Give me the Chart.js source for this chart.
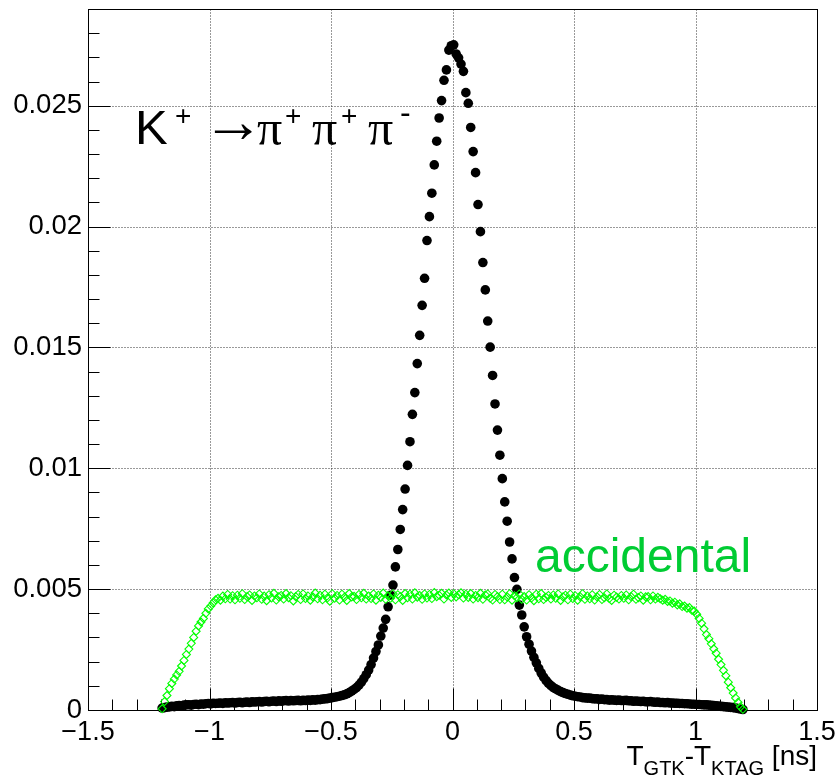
<!DOCTYPE html>
<html>
<head>
<meta charset="utf-8">
<script src="https://cdn.jsdelivr.net/npm/chart.js@4/dist/chart.umd.min.js"></script>
<style>
  html, body { margin: 0; padding: 0; background: #fff; }
  #wrap { width: 840px; height: 776px; }
</style>
</head>
<body>
<div id="wrap"><canvas id="c"></canvas></div>
<script>
// Histogram binning: 240 bins of 10 ps from -1.2 ns to 1.2 ns
const binLow = -1.2;
const binWidth = 0.01;

// K+ -> pi+ pi+ pi- : normalised bin contents
const k3piContent = [
  0.8e-4, 1.0e-4, 1.2e-4, 1.3e-4, 1.5e-4, 1.4e-4, 1.7e-4, 1.8e-4, 1.7e-4, 2.0e-4,
  2.1e-4, 2.2e-4, 2.0e-4, 2.3e-4, 2.4e-4, 2.2e-4, 2.5e-4, 2.4e-4, 2.6e-4, 2.7e-4,
  2.5e-4, 2.8e-4, 2.7e-4, 2.8e-4, 2.9e-4, 2.7e-4, 3.0e-4, 2.9e-4, 3.0e-4, 3.1e-4,
  2.9e-4, 3.1e-4, 3.2e-4, 3.0e-4, 3.2e-4, 3.3e-4, 3.1e-4, 3.4e-4, 3.3e-4, 3.4e-4,
  3.5e-4, 3.3e-4, 3.5e-4, 3.6e-4, 3.4e-4, 3.6e-4, 3.7e-4, 3.5e-4, 3.8e-4, 3.6e-4,
  3.8e-4, 3.9e-4, 3.7e-4, 3.9e-4, 3.8e-4, 3.9e-4, 4.0e-4, 3.8e-4, 4.0e-4, 3.9e-4,
  4.1e-4, 4.0e-4, 4.2e-4, 4.1e-4, 4.3e-4, 4.3e-4, 4.5e-4, 4.6e-4, 4.7e-4, 4.9e-4,
  5.1e-4, 5.3e-4, 5.5e-4, 5.7e-4, 6.0e-4, 6.3e-4, 6.7e-4, 7.2e-4, 7.8e-4, 8.5e-4,
  9.3e-4, 10.3e-4, 11.5e-4, 13.0e-4, 14.6e-4, 16.5e-4, 18.8e-4, 21.5e-4, 24.2e-4, 26.9e-4,
  30.6e-4, 33.9e-4, 37.5e-4, 42.7e-4, 47.5e-4, 51.7e-4, 59.2e-4, 66.4e-4, 74.7e-4, 82.9e-4,
  91.4e-4, 101.2e-4, 111.0e-4, 122.3e-4, 131.3e-4, 143.3e-4, 155.0e-4, 167.4e-4, 178.6e-4, 194.2e-4,
  204.1e-4, 213.8e-4, 225.5e-4, 235.3e-4, 244.9e-4, 252.1e-4, 260.5e-4, 264.8e-4, 273.0e-4, 274.8e-4,
  275.2e-4, 271.4e-4, 269.8e-4, 267.2e-4, 264.2e-4, 255.4e-4, 251.0e-4, 241.0e-4, 231.0e-4, 222.3e-4,
  209.1e-4, 197.9e-4, 185.1e-4, 173.8e-4, 160.9e-4, 150.1e-4, 138.4e-4, 126.6e-4, 115.8e-4, 105.4e-4,
  95.7e-4, 86.1e-4, 78.1e-4, 69.5e-4, 62.5e-4, 54.8e-4, 49.9e-4, 43.4e-4, 39.3e-4, 34.4e-4,
  30.3e-4, 27.2e-4, 24.4e-4, 21.8e-4, 19.5e-4, 17.2e-4, 15.3e-4, 13.6e-4, 12.2e-4, 11.0e-4,
  10.1e-4, 9.3e-4, 8.7e-4, 8.1e-4, 7.6e-4, 7.2e-4, 6.8e-4, 6.5e-4, 6.2e-4, 5.9e-4,
  5.7e-4, 5.5e-4, 5.4e-4, 5.1e-4, 5.0e-4, 4.9e-4, 4.9e-4, 4.7e-4, 4.6e-4, 4.6e-4,
  4.4e-4, 4.5e-4, 4.3e-4, 4.3e-4, 4.1e-4, 4.2e-4, 4.1e-4, 4.0e-4, 4.1e-4, 3.9e-4,
  3.9e-4, 4.0e-4, 3.8e-4, 3.8e-4, 3.6e-4, 3.7e-4, 3.6e-4, 3.5e-4, 3.6e-4, 3.4e-4,
  3.4e-4, 3.5e-4, 3.3e-4, 3.2e-4, 3.3e-4, 3.1e-4, 3.1e-4, 3.0e-4, 3.1e-4, 2.9e-4,
  2.9e-4, 2.8e-4, 2.8e-4, 2.7e-4, 2.7e-4, 2.6e-4, 2.6e-4, 2.5e-4, 2.4e-4, 2.4e-4,
  2.3e-4, 2.3e-4, 2.2e-4, 2.1e-4, 2.1e-4, 2.0e-4, 1.9e-4, 1.8e-4, 1.7e-4, 1.6e-4,
  1.5e-4, 1.4e-4, 1.3e-4, 1.2e-4, 1.1e-4, 1.0e-4, 0.8e-4, 0.6e-4, 0.4e-4, 0.2e-4
];

// Accidental (out-of-time) GTK-KTAG pairs: normalised bin contents
const accidentalContent = [
  0.5e-4, 3.5e-4, 6.0e-4, 8.8e-4, 11.0e-4, 12.8e-4, 14.5e-4, 16.0e-4, 18.2e-4, 20.5e-4,
  23.0e-4, 25.2e-4, 27.6e-4, 30.0e-4, 32.6e-4, 34.8e-4, 36.4e-4, 37.9e-4, 40.0e-4, 41.8e-4,
  43.0e-4, 44.3e-4, 45.6e-4, 46.2e-4, 45.4e-4, 47.1e-4, 46.0e-4, 47.8e-4, 45.9e-4, 47.3e-4,
  45.6e-4, 47.5e-4, 46.2e-4, 48.1e-4, 45.7e-4, 46.9e-4, 47.6e-4, 45.3e-4, 47.2e-4, 46.4e-4,
  48.0e-4, 45.8e-4, 47.1e-4, 45.2e-4, 47.7e-4, 46.3e-4, 48.3e-4, 45.5e-4, 46.8e-4, 47.4e-4,
  45.9e-4, 48.2e-4, 46.5e-4, 47.3e-4, 45.1e-4, 46.9e-4, 47.8e-4, 45.7e-4, 48.0e-4, 46.1e-4,
  47.2e-4, 45.4e-4, 46.8e-4, 48.4e-4, 46.0e-4, 47.5e-4, 45.6e-4, 47.9e-4, 46.3e-4, 45.0e-4,
  48.1e-4, 46.2e-4, 47.4e-4, 45.5e-4, 47.9e-4, 46.6e-4, 45.3e-4, 48.2e-4, 46.8e-4, 47.0e-4,
  45.7e-4, 47.8e-4, 46.4e-4, 48.3e-4, 45.9e-4, 47.2e-4, 46.1e-4, 48.0e-4, 45.4e-4, 47.5e-4,
  46.6e-4, 48.4e-4, 45.8e-4, 47.3e-4, 46.2e-4, 48.1e-4, 45.6e-4, 47.7e-4, 46.9e-4, 45.3e-4,
  48.2e-4, 46.4e-4, 47.9e-4, 45.9e-4, 48.5e-4, 46.7e-4, 47.4e-4, 45.8e-4, 48.0e-4, 46.3e-4,
  47.8e-4, 46.1e-4, 48.6e-4, 46.9e-4, 47.5e-4, 48.3e-4, 45.9e-4, 47.6e-4, 48.4e-4, 46.6e-4,
  48.1e-4, 46.8e-4, 47.7e-4, 48.5e-4, 46.3e-4, 47.9e-4, 46.6e-4, 48.2e-4, 45.9e-4, 47.4e-4,
  46.5e-4, 48.3e-4, 45.8e-4, 47.6e-4, 48.0e-4, 46.2e-4, 45.5e-4, 47.8e-4, 46.9e-4, 45.7e-4,
  47.9e-4, 45.6e-4, 46.8e-4, 48.1e-4, 45.4e-4, 47.3e-4, 46.5e-4, 48.0e-4, 45.8e-4, 46.9e-4,
  45.5e-4, 47.7e-4, 46.3e-4, 45.2e-4, 47.9e-4, 46.0e-4, 48.2e-4, 45.7e-4, 46.6e-4, 47.4e-4,
  45.9e-4, 47.6e-4, 46.2e-4, 48.0e-4, 45.3e-4, 46.8e-4, 47.5e-4, 45.6e-4, 47.9e-4, 46.1e-4,
  47.3e-4, 45.4e-4, 46.9e-4, 48.1e-4, 45.8e-4, 47.2e-4, 46.0e-4, 47.7e-4, 45.5e-4, 46.8e-4,
  47.8e-4, 45.7e-4, 46.4e-4, 48.0e-4, 46.1e-4, 45.3e-4, 47.5e-4, 46.7e-4, 45.9e-4, 47.4e-4,
  46.2e-4, 47.6e-4, 45.6e-4, 46.9e-4, 47.9e-4, 45.8e-4, 46.5e-4, 47.2e-4, 45.4e-4, 46.8e-4,
  46.9e-4, 45.6e-4, 47.2e-4, 45.9e-4, 46.6e-4, 46.0e-4, 45.4e-4, 45.8e-4, 44.9e-4, 45.1e-4,
  44.2e-4, 44.6e-4, 43.5e-4, 43.9e-4, 42.8e-4, 43.0e-4, 42.1e-4, 42.4e-4, 41.3e-4, 40.9e-4,
  39.6e-4, 37.9e-4, 35.9e-4, 33.6e-4, 31.2e-4, 29.5e-4, 27.4e-4, 25.3e-4, 23.5e-4, 21.0e-4,
  18.8e-4, 16.4e-4, 14.2e-4, 11.5e-4, 9.2e-4, 7.0e-4, 5.0e-4, 3.2e-4, 1.3e-4, 0.3e-4
];

// Axis ranges and major tick labels
const xRange = [-1.5, 1.5];
const yRange = [0, 0.029];
const xTicks = [-1.5, -1, -0.5, 0, 0.5, 1, 1.5];
const xTickLabels = ['\u22121.5', '\u22121', '\u22120.5', '0', '0.5', '1', '1.5'];
const yTicks = [0, 0.005, 0.01, 0.015, 0.02, 0.025];
const yTickLabels = ['0', '0.005', '0.01', '0.015', '0.02', '0.025'];

const SANS = '"Liberation Sans", Arial, Helvetica, sans-serif';
const SERIF = '"Liberation Serif", "Times New Roman", serif';

function binPoints(contents) {
  return contents.map((v, i) => ({ x: binLow + (i + 0.5) * binWidth, y: v }));
}

// Dotted grid, frame and inward-pointing ROOT-style tick marks
const plotFrame = {
  id: 'plotFrame',
  beforeDatasetsDraw(chart) {
    const { ctx, chartArea: a, scales: { x, y } } = chart;
    const L = Math.round(a.left) + 0.5, R = Math.round(a.right) + 0.5;
    const T = Math.round(a.top) + 0.5, B = Math.round(a.bottom) + 0.5;
    ctx.save();
    ctx.lineWidth = 1;
    ctx.strokeStyle = '#333';
    ctx.setLineDash([1, 2]);
    ctx.beginPath();
    for (const v of xTicks) {
      const px = Math.round(x.getPixelForValue(v)) + 0.5;
      if (px > L + 2 && px < R - 2) { ctx.moveTo(px, T); ctx.lineTo(px, B); }
    }
    for (const v of yTicks) {
      const py = Math.round(y.getPixelForValue(v)) + 0.5;
      if (py > T + 2 && py < B - 2) { ctx.moveTo(L, py); ctx.lineTo(R, py); }
    }
    ctx.stroke();
    ctx.setLineDash([]);
    ctx.strokeStyle = '#000';
    ctx.strokeRect(L, T, R - L, B - T);
    ctx.beginPath();
    for (let k = -15; k <= 15; k++) {
      const px = Math.round(x.getPixelForValue(k / 10)) + 0.5;
      const len = k % 5 === 0 ? 22 : 11;
      ctx.moveTo(px, B); ctx.lineTo(px, B - len);
    }
    for (let k = 0; k <= 28; k++) {
      const py = Math.round(y.getPixelForValue(k / 1000)) + 0.5;
      const len = k % 5 === 0 ? 22 : 11;
      ctx.moveTo(L, py); ctx.lineTo(L + len, py);
    }
    ctx.stroke();
    ctx.restore();
  }
};

// Sequential text runs with per-run gap and baseline shift
function drawRuns(ctx, runs, x, baseline) {
  for (const r of runs) {
    ctx.font = r.font;
    ctx.fillText(r.t, x + (r.dx || 0), baseline + (r.dy || 0));
    x += (r.dx || 0) + ctx.measureText(r.t).width;
  }
  return x;
}
function runsWidth(ctx, runs) {
  let w = 0;
  for (const r of runs) { ctx.font = r.font; w += (r.dx || 0) + ctx.measureText(r.t).width; }
  return w;
}

const labels = {
  id: 'labels',
  afterDatasetsDraw(chart) {
    const { ctx, chartArea: a } = chart;
    ctx.save();
    ctx.textBaseline = 'alphabetic';
    ctx.textAlign = 'left';

    // decay channel, each piece placed at its own x
    ctx.fillStyle = '#000';
    const sup = '28px ' + SANS, pi = '50px ' + SERIF;
    const decay = [
      { t: 'K', font: '49px ' + SANS, x: 135, dy: 0 },
      { t: '+', font: sup, x: 175, dy: -19 },
      { t: '\u2192', font: '62px ' + SANS + ', "DejaVu Sans"', x: 202, dy: -2 },
      { t: '\u03c0', font: pi, x: 257, dy: 1 },
      { t: '+', font: sup, x: 285, dy: -19 },
      { t: '\u03c0', font: pi, x: 312, dy: 1 },
      { t: '+', font: sup, x: 341, dy: -19 },
      { t: '\u03c0', font: pi, x: 368, dy: 1 },
      { t: '-', font: '32px ' + SANS, x: 400, dy: -21 }
    ];
    for (const p of decay) { ctx.font = p.font; ctx.fillText(p.t, p.x, 144 + p.dy); }

    // accidental label
    ctx.fillStyle = '#00cc33';
    ctx.font = '48px ' + SANS;
    ctx.fillText('accidental', 535, 572);

    // x-axis title, right-aligned to the frame
    ctx.fillStyle = '#000';
    const main = '28px ' + SANS, sub = '20px ' + SANS;
    const title = [
      { t: 'T', font: main },
      { t: 'GTK', font: sub, dy: 10 },
      { t: '-T', font: main },
      { t: 'KTAG', font: sub, dy: 10 },
      { t: ' [ns]', font: main }
    ];
    const w = runsWidth(ctx, title);
    drawRuns(ctx, title, Math.round(a.right) - w, 765);
    ctx.restore();
  }
};

new Chart(document.getElementById('c'), {
  type: 'scatter',
  data: {
    datasets: [
      {
        label: 'accidental',
        data: binPoints(accidentalContent),
        pointStyle: 'rectRot',
        pointRadius: 4,
        pointBorderWidth: 1.1,
        pointBorderColor: '#00ff00',
        pointBackgroundColor: 'rgba(0,0,0,0)',
        showLine: false,
        clip: false,
        order: 0
      },
      {
        label: 'K+ \u2192 \u03c0+\u03c0+\u03c0-',
        data: binPoints(k3piContent),
        pointStyle: 'circle',
        pointRadius: 4.8,
        pointBorderWidth: 0,
        pointBackgroundColor: '#000',
        pointBorderColor: '#000',
        showLine: false,
        clip: false,
        order: 1
      }
    ]
  },
  options: {
    responsive: true,
    maintainAspectRatio: false,
    devicePixelRatio: 1,
    animation: false,
    events: [],
    layout: { padding: { top: 9, right: 23, left: 0, bottom: 0 } },
    plugins: { legend: { display: false }, tooltip: { enabled: false } },
    scales: {
      x: {
        type: 'linear',
        min: xRange[0], max: xRange[1],
        grid: { display: false, drawTicks: false },
        border: { display: false },
        afterBuildTicks: s => { s.ticks = xTicks.map(v => ({ value: v })); },
        afterFit: s => { s.height = 66; s.paddingLeft = 0; s.paddingRight = 0; s.paddingTop = 0; s.paddingBottom = 0; },
        ticks: {
          autoSkip: false, maxRotation: 0, padding: 6,
          color: '#000', font: { family: SANS, size: 27 },
          callback: (v, i) => xTickLabels[i]
        }
      },
      y: {
        type: 'linear',
        min: yRange[0], max: yRange[1],
        grid: { display: false, drawTicks: false },
        border: { display: false },
        afterBuildTicks: s => { s.ticks = yTicks.map(v => ({ value: v })); },
        afterFit: s => { s.width = 88; s.paddingLeft = 0; s.paddingRight = 0; s.paddingTop = 0; s.paddingBottom = 0; },
        ticks: {
          autoSkip: false, padding: 6,
          color: '#000', font: { family: SANS, size: 27.5 },
          callback: (v, i) => yTickLabels[i]
        }
      }
    }
  },
  plugins: [plotFrame, labels]
});
</script>
</body>
</html>
